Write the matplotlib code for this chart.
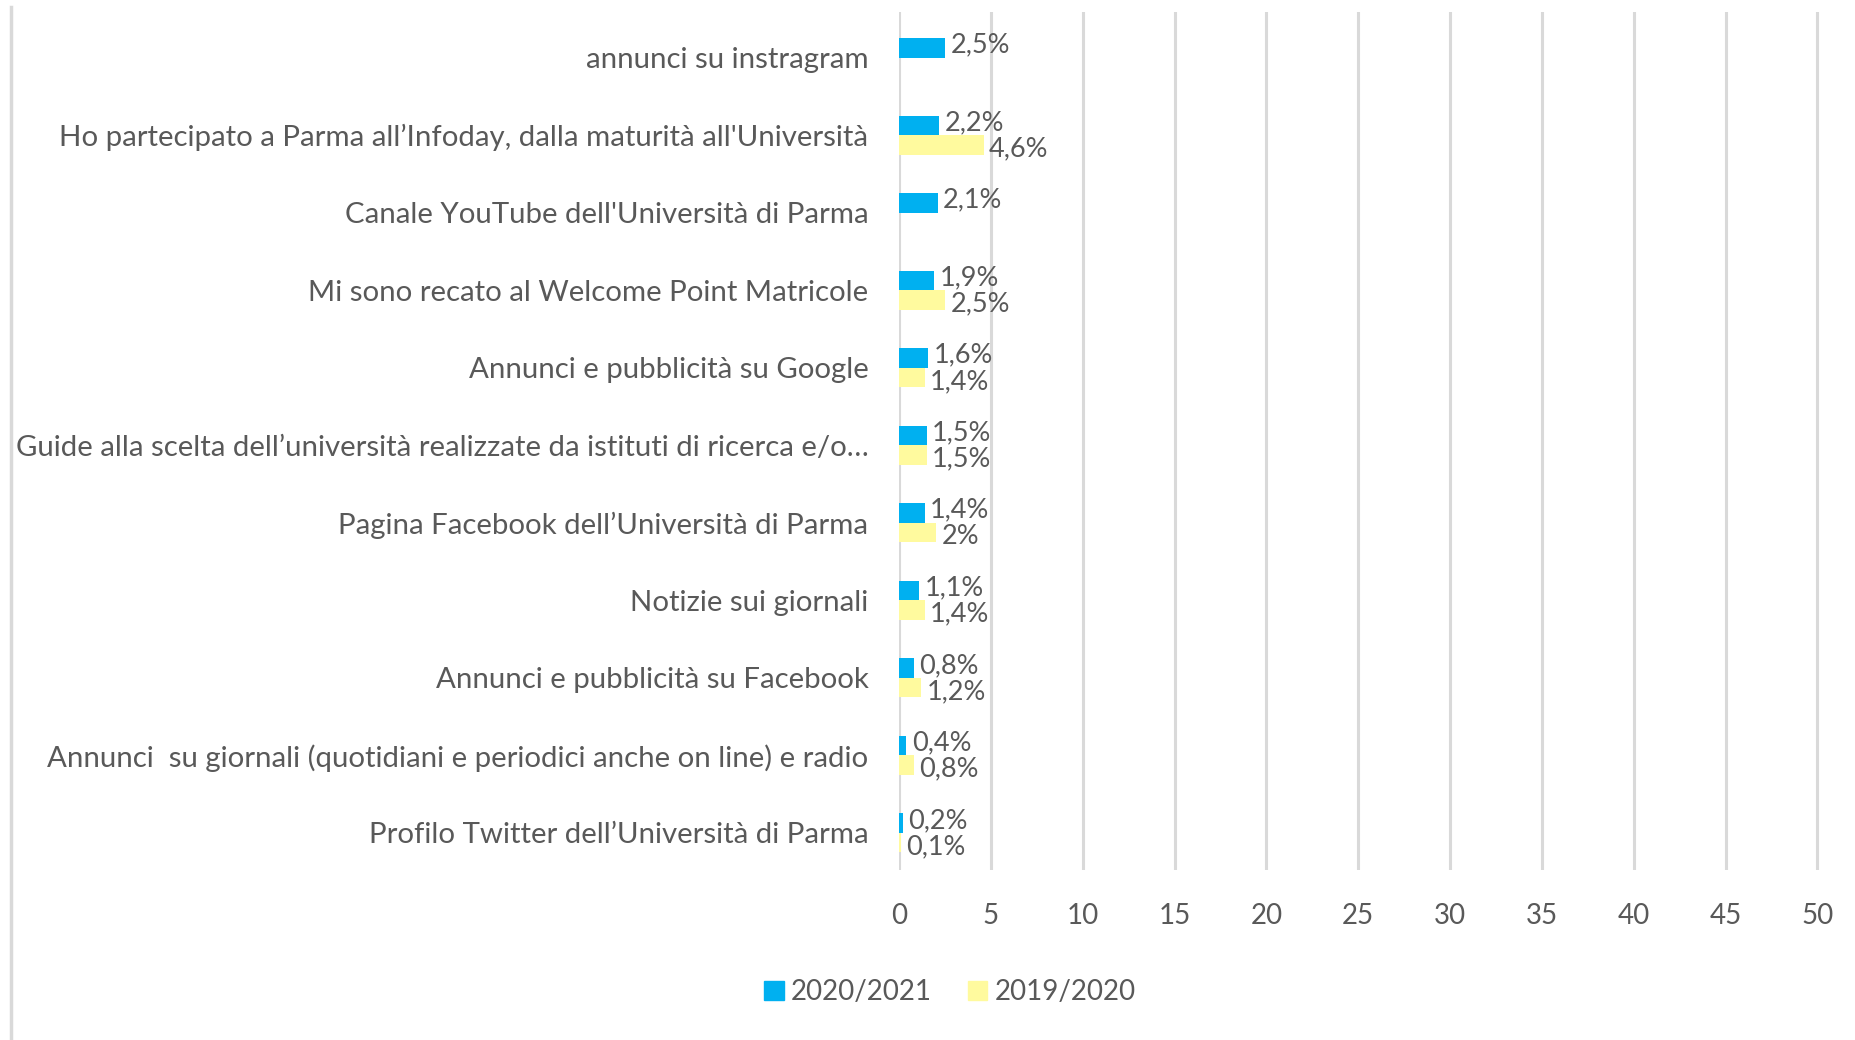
import matplotlib.pyplot as plt
from matplotlib.lines import Line2D
from matplotlib.patches import Patch

# dati (percentuali)
categorie = [
    "annunci su instragram",
    "Ho partecipato a Parma all’Infoday, dalla maturità all'Università",
    "Canale YouTube dell'Università di Parma",
    "Mi sono recato al Welcome Point Matricole",
    "Annunci e pubblicità su Google",
    "Guide alla scelta dell’università realizzate da istituti di ricerca e/o…",
    "Pagina Facebook dell’Università di Parma",
    "Notizie sui giornali",
    "Annunci e pubblicità su Facebook",
    "Annunci  su giornali (quotidiani e periodici anche on line) e radio",
    "Profilo Twitter dell’Università di Parma",
]
val_2021 = [2.5, 2.2, 2.1, 1.9, 1.6, 1.5, 1.4, 1.1, 0.8, 0.4, 0.2]
val_2020 = [None, 4.6, None, 2.5, 1.4, 1.5, 2.0, 1.4, 1.2, 0.8, 0.1]
serie = ["2020/2021", "2019/2020"]
xticks = [0, 5, 10, 15, 20, 25, 30, 35, 40, 45, 50]

BLU = "#00B0F0"
GIALLO = "#FFFA9E"
TESTO = "#595959"
GRIGLIA = "#D9D9D9"

plt.rcParams['font.family'] = ['Lato', 'DejaVu Sans']

fig = plt.figure(figsize=(18.56, 10.4), dpi=100)
ax = fig.add_axes([899 / 1856, 1 - 870 / 1040, (1823 - 899) / 1856, (870 - 12) / 1040])

h = 0.25
for i, (a, b) in enumerate(zip(val_2021, val_2020)):
    ax.barh(i - h / 2, a, height=h, color=BLU, zorder=3)
    ax.annotate(f"{a:g}".replace('.', ',') + '%', (a, i - h / 2), xytext=(4, 2),
                textcoords='offset points', va='center', ha='left',
                fontsize=19.5, color=TESTO, zorder=4)
    if b is not None:
        ax.barh(i + h / 2, b, height=h, color=GIALLO, zorder=3)
        ax.annotate(f"{b:g}".replace('.', ',') + '%', (b, i + h / 2), xytext=(4, -3),
                    textcoords='offset points', va='center', ha='left',
                    fontsize=19.5, color=TESTO, zorder=4)

ax.set_xlim(0, 50.3)
ax.set_ylim(10.48, -0.59)
ax.set_xticks(xticks)
ax.set_xticklabels([str(t) for t in xticks])
ax.set_yticks(range(len(categorie)))
ax.set_yticklabels(categorie, fontsize=21.2)
ax.tick_params(axis='both', length=0, colors=TESTO)
ax.tick_params(axis='x', labelsize=20, pad=24)
ax.tick_params(axis='y', pad=22)
ax.grid(axis='x', color=GRIGLIA, linewidth=2.2, zorder=0)
for s in ax.spines.values():
    s.set_visible(False)

# bordo sinistro del riquadro
fig.add_artist(Line2D([11 / 1856, 11 / 1856], [0, 1 - 7 / 1040],
                      transform=fig.transFigure, color=GRIGLIA, linewidth=2.5))

maniglie = [Patch(color=BLU), Patch(color=GIALLO)]
fig.legend(maniglie, serie, loc='center', bbox_to_anchor=(950 / 1856, 1 - 992 / 1040),
           ncol=2, frameon=False, fontsize=20, labelcolor=TESTO,
           handlelength=0.7, handleheight=0.7, handletextpad=0.25, columnspacing=1.3)

plt.savefig("out.png", dpi=100)
plt.close()
